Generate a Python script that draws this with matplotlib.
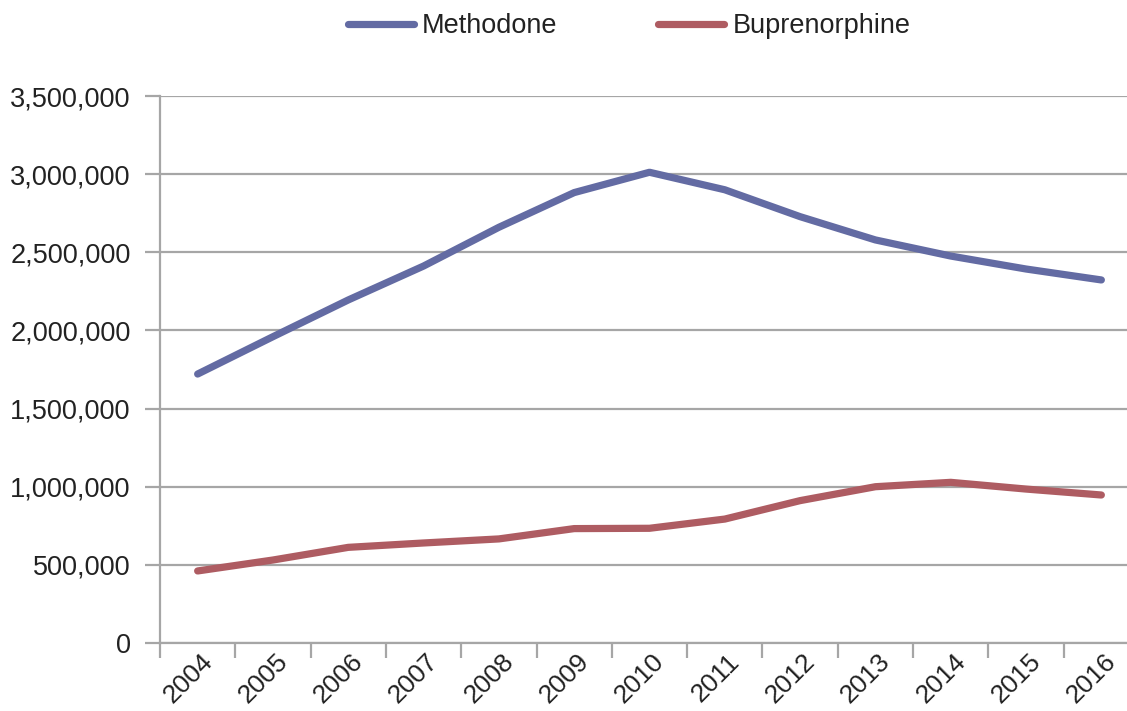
import matplotlib
matplotlib.use("Agg")
import matplotlib.pyplot as plt
import matplotlib.transforms as mtransforms
from matplotlib.ticker import FuncFormatter

years = ["2004", "2005", "2006", "2007", "2008", "2009", "2010",
         "2011", "2012", "2013", "2014", "2015", "2016"]
methadone = [1721000, 1960000, 2195000, 2412000, 2660000, 2882000, 3012000,
             2900000, 2728000, 2579000, 2476000, 2393000, 2323000]
buprenorphine = [461000, 531000, 612000, 640000, 666000, 732000, 734000,
                 793000, 911000, 1000000, 1028000, 985000, 947000]
series_names = ["Methodone", "Buprenorphine"]
colors = ["#636ba3", "#ae5c62"]

plt.rcParams["font.family"] = ["Liberation Sans", "DejaVu Sans"]
text_color = "#222222"
grid_color = "#a6a6a6"
fs = 19.5

fig = plt.figure(figsize=(11.27, 7.11), dpi=100)
W, H = 1127, 711
left, right, top, bottom = 160, 1139, 96, 643
ax = fig.add_axes([left / W, (H - bottom) / H, (right - left) / W, (bottom - top) / H])

n = len(years)
centers = [i + 0.5 for i in range(n)]
for vals, name, c in zip([methadone, buprenorphine], series_names, colors):
    ax.plot(centers, vals, color=c, lw=5.2, solid_capstyle="round",
            solid_joinstyle="round", label=name, zorder=3)

ax.set_xlim(0, n)
ax.set_ylim(0, 3500000)
ax.set_yticks(range(0, 3500001, 500000))
ax.yaxis.set_major_formatter(FuncFormatter(lambda v, p: f"{int(v):,}"))
ax.grid(axis="y", color=grid_color, lw=1.6, zorder=1)
ax.set_axisbelow(True)

for s in ["top", "right"]:
    ax.spines[s].set_visible(False)
for s in ["left", "bottom"]:
    ax.spines[s].set_color(grid_color)
    ax.spines[s].set_linewidth(1.6)

# category boundaries carry the tick marks; year labels sit at the centres
ax.set_xticks(range(n + 1))
ax.set_xticklabels([])
ax.tick_params(axis="x", length=10.5, width=1.6, color=grid_color, direction="out")

label_tr = ax.get_xaxis_transform() + mtransforms.ScaledTranslation(
    11 / 100, -15 / 100, fig.dpi_scale_trans)
for xc, yr in zip(centers, years):
    ax.text(xc, 0, yr, transform=label_tr, rotation=45, rotation_mode="anchor",
            ha="right", va="center", fontsize=19, color=text_color, clip_on=False)

ax.tick_params(axis="y", length=11, width=1.6, color=grid_color, pad=10,
               labelsize=fs, labelcolor=text_color)

leg = fig.legend(loc="center", bbox_to_anchor=(629 / W, 1 - 26 / H), ncol=2,
                 frameon=False, fontsize=fs, handlelength=2.45, columnspacing=3.7,
                 handletextpad=0.3)
for t in leg.get_texts():
    t.set_color(text_color)

fig.savefig("out.png", dpi=100)
